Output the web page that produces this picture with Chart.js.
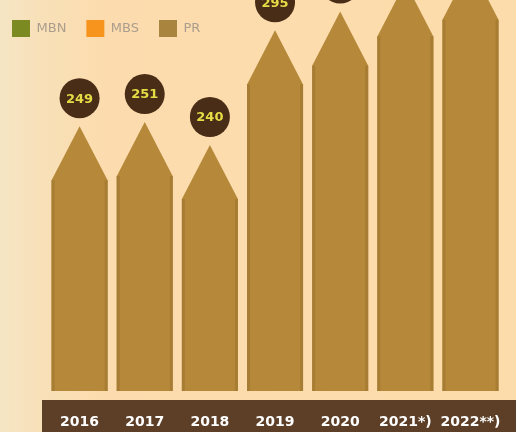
<!DOCTYPE html>
<html>
<head>
<meta charset="utf-8">
<script src="https://cdn.jsdelivr.net/npm/chart.js@4.4.1/dist/chart.umd.min.js"></script>
<style>
  html, body { margin: 0; padding: 0; background: #fcdcae; }
  #wrap { width: 516px; height: 432px; }
</style>
</head>
<body>
<div id="wrap"><canvas id="c" width="516" height="432"></canvas></div>
<script>
// data (2020-2022 labels are cut off, estimated)
const years = ['2016', '2017', '2018', '2019', '2020', '2021*)', '2022**)'];
const prValues = [249, 251, 240, 295, 304, 318, 326];
const seriesNames = ['MBN', 'MBS', 'PR'];
const seriesColors = ['#7b8b22', '#f7941d', '#a8843f'];

const BAR = '#b6883a';
const BAR_EDGE = '#a77d34';
const BADGE = '#4a2d17';
const BADGE_TEXT = '#e6dc46';
const BAND = '#5d3f28';

// background + dark band behind the year labels
const backdrop = {
  id: 'backdrop',
  beforeDraw(chart) {
    const { ctx, width, height, chartArea } = chart;
    const g = ctx.createLinearGradient(0, 0, width, 0);
    g.addColorStop(0, '#f5e5c4');
    g.addColorStop(0.08, '#f8e0b8');
    g.addColorStop(0.2, '#fcdcae');
    g.addColorStop(1, '#fddcab');
    ctx.save();
    ctx.fillStyle = g;
    ctx.fillRect(0, 0, width, height);
    ctx.fillStyle = BAND;
    ctx.fillRect(chartArea.left - 5, chartArea.bottom + 9, width, height);
    ctx.restore();
  }
};

// pencil shaped bars with round value badges
const pencils = {
  id: 'pencils',
  afterDatasetsDraw(chart) {
    const meta = chart.getDatasetMeta(2);
    const { ctx, chartArea } = chart;
    ctx.save();
    meta.data.forEach((bar, i) => {
      const half = bar.width / 2;
      const tip = bar.y;
      const base = Math.min(bar.base, chartArea.bottom);
      const shoulder = tip + half * 1.93;
      const l = bar.x - half, r = bar.x + half;

      ctx.beginPath();
      ctx.moveTo(l, base);
      ctx.lineTo(l, shoulder);
      ctx.lineTo(bar.x, tip);
      ctx.lineTo(r, shoulder);
      ctx.lineTo(r, base);
      ctx.closePath();
      ctx.fillStyle = BAR;
      ctx.fill();

      // darker edge strips
      ctx.fillStyle = BAR_EDGE;
      ctx.fillRect(l, shoulder, 3, base - shoulder);
      ctx.fillRect(r - 3, shoulder, 3, base - shoulder);

      // badge
      const cy = tip - 28;
      ctx.beginPath();
      ctx.arc(bar.x, cy, 20, 0, Math.PI * 2);
      ctx.fillStyle = BADGE;
      ctx.fill();
      ctx.fillStyle = BADGE_TEXT;
      ctx.font = 'bold 13px "DejaVu Sans"';
      ctx.textAlign = 'center';
      ctx.textBaseline = 'middle';
      ctx.fillText(String(prValues[i]), bar.x, cy + 1);
    });
    ctx.restore();
  }
};

new Chart(document.getElementById('c'), {
  type: 'bar',
  data: {
    labels: years,
    datasets: [
      { label: seriesNames[0], data: [], backgroundColor: seriesColors[0] },
      { label: seriesNames[1], data: [], backgroundColor: seriesColors[1] },
      {
        label: seriesNames[2],
        data: prValues,
        backgroundColor: 'rgba(0,0,0,0)',
        grouped: false,
        barPercentage: 0.86,
        categoryPercentage: 1
      }
    ]
  },
  options: {
    responsive: false,
    animation: false,
    events: [],
    layout: { padding: { left: -8, right: 7, top: 0, bottom: 0 } },
    plugins: {
      tooltip: { enabled: false },
      legend: {
        position: 'top',
        align: 'start',
        labels: {
          boxWidth: 18,
          boxHeight: 17,
          padding: 20,
          font: { family: '"DejaVu Sans"', size: 13 },
          generateLabels(chart) {
            return chart.data.datasets.map((d, i) => ({
              text: d.label,
              fillStyle: seriesColors[i],
              strokeStyle: seriesColors[i],
              fontColor: '#ab9d8d',
              lineWidth: 0,
              datasetIndex: i
            }));
          }
        }
      }
    },
    scales: {
      x: {
        grid: { display: false },
        border: { display: false },
        ticks: {
          color: '#ffffff',
          autoSkip: false,
          maxRotation: 0,
          padding: 15,
          font: { family: '"DejaVu Sans"', size: 14, weight: 'bold' }
        },
        afterFit(s) { s.height = 41; }
      },
      y: {
        min: 122,
        max: 287,
        grid: { display: false },
        border: { display: false },
        ticks: { display: false },
        afterFit(s) { s.width = 55; }
      }
    }
  },
  plugins: [backdrop, pencils]
});
</script>
</body>
</html>
